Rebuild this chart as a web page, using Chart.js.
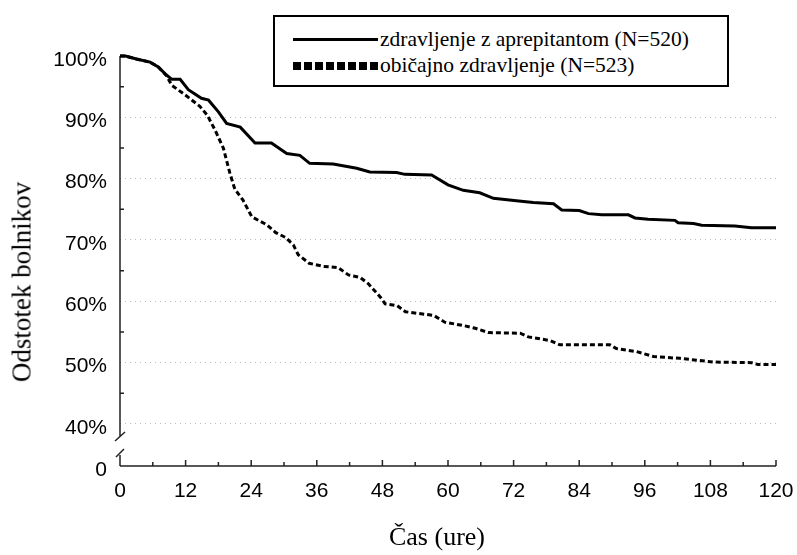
<!DOCTYPE html>
<html>
<head>
<meta charset="utf-8">
<script src="https://cdn.jsdelivr.net/npm/chart.js@4.4.1/dist/chart.umd.min.js"></script>
<style>
  body { margin: 0; background: #fff; }
  #wrap { position: relative; width: 797px; height: 555px; }
  #legend { position: absolute; left: 273px; top: 15px; width: 452px; height: 68px; border: 2px solid #000; background: #fff;
            font-family: "Liberation Serif", "Times New Roman", serif; font-size: 21.5px; color: #000; }
  .row { position: absolute; left: 105px; line-height: 24px; white-space: nowrap; }
  .sample { position: absolute; left: 18px; width: 85px; }
  #ytitle { position: absolute; left: 22px; top: 282px; transform: translate(-50%, -50%) rotate(-90deg);
            font-family: "Liberation Serif", serif; font-size: 27px; white-space: nowrap; }
  #xtitle { position: absolute; left: 437px; top: 537px; transform: translate(-50%, -50%);
            font-family: "Liberation Serif", serif; font-size: 26px; white-space: nowrap; }
</style>
</head>
<body>
<div id="wrap">
  <canvas id="km" width="797" height="555"></canvas>
  <div id="legend">
    <div class="sample" style="top:21px;height:3px;background:#000"></div>
    <div class="row" style="top:10px">zdravljenje z aprepitantom (N=520)</div>
    <div class="sample" style="top:45px;height:8px;background:repeating-linear-gradient(to right,#000 0 8px,transparent 8px 11px)"></div>
    <div class="row" style="top:36px">običajno zdravljenje (N=523)</div>
  </div>
  <div id="ytitle">Odstotek bolnikov</div>
  <div id="xtitle">Čas (ure)</div>
</div>
<script>
// hours / percent of patients
const aprepitantHours = [0, 1, 3, 5.5, 7, 8.5, 9.5, 11, 12.5, 14.9, 16.2, 18, 19.5, 22, 24.7, 27.7, 30.5, 32.9, 34.7, 39, 43.3, 45.7, 50.6, 52.1, 57, 60, 62.8, 65.8, 68.3, 72.5, 75.6, 79.3, 80.8, 84, 85.7, 88.1, 93, 94.2, 96.6, 101.5, 102.1, 104.9, 106.4, 112.5, 115.5, 120];
const aprepitantPct   = [100, 100, 99.5, 99.0, 98.2, 96.9, 96.2, 96.2, 94.5, 93.1, 92.8, 90.9, 89.0, 88.4, 85.8, 85.8, 84.1, 83.8, 82.5, 82.4, 81.7, 81.1, 81.0, 80.7, 80.6, 79.0, 78.1, 77.7, 76.8, 76.4, 76.1, 75.9, 74.9, 74.8, 74.3, 74.1, 74.1, 73.6, 73.4, 73.2, 72.8, 72.7, 72.4, 72.3, 72.0, 72.0];

const standardHours = [0, 1, 3, 5.5, 7, 8.5, 9.5, 12, 14.6, 16, 17.4, 18.9, 20.1, 21, 22.5, 24.1, 26.8, 28.5, 30.3, 31.7, 32.6, 34.6, 37.2, 39.9, 41.8, 43.9, 45.4, 47.6, 48.5, 50.7, 52.2, 57.4, 59.4, 63.1, 65, 67.4, 73.2, 74.7, 78.7, 80.5, 89.6, 90.8, 94.5, 97.6, 102.4, 105.5, 108.5, 115.5, 116.7, 120];
const standardPct   = [100, 100, 99.5, 99.0, 98.2, 96.8, 95.2, 93.6, 91.8, 90.3, 87.9, 85.0, 80.9, 78.3, 76.5, 73.8, 72.5, 71.2, 70.4, 69.2, 67.6, 66.2, 65.7, 65.5, 64.3, 63.9, 62.9, 60.7, 59.6, 59.3, 58.3, 57.7, 56.6, 56.0, 55.6, 54.9, 54.8, 54.2, 53.6, 52.9, 52.9, 52.3, 51.8, 51.0, 50.7, 50.4, 50.1, 50.0, 49.7, 49.7];

const xTicks = [0, 12, 24, 36, 48, 60, 72, 84, 96, 108, 120];
const yTicks = [40, 50, 60, 70, 80, 90, 100];
const BREAK = 33.15; // position of "0" below the axis break

const toPoints = (xs, ys) => xs.map((x, i) => ({ x: x, y: ys[i] }));

const axisPlugin = {
  id: 'axisPlugin',
  beforeDatasetsDraw(chart) {
    const ctx = chart.ctx;
    const xs = chart.scales.x, ys = chart.scales.y;
    const x0 = xs.getPixelForValue(0), x1 = xs.getPixelForValue(120);
    const yb = ys.getPixelForValue(BREAK), yt = ys.getPixelForValue(100);
    const y40 = ys.getPixelForValue(40);
    ctx.save();
    ctx.strokeStyle = '#222';
    ctx.lineWidth = 1.5;
    ctx.beginPath();
    // x axis
    ctx.moveTo(x0, yb); ctx.lineTo(x1, yb);
    // y axis, with break
    ctx.moveTo(x0, yb); ctx.lineTo(x0, yb - 11);
    ctx.moveTo(x0, y40 + 13); ctx.lineTo(x0, yt);
    // break marks
    ctx.moveTo(x0 - 4, yb - 9); ctx.lineTo(x0 + 4, yb - 17);
    ctx.moveTo(x0 - 5, y40 + 17); ctx.lineTo(x0 + 5, y40 + 8);
    // x ticks (inward)
    for (let h = 0; h <= 120; h += 6) {
      const px = xs.getPixelForValue(h);
      ctx.moveTo(px, yb); ctx.lineTo(px, yb - (h % 12 === 0 ? 6 : 4));
    }
    // y minor ticks
    for (let v = 45; v < 100; v += 10) {
      const py = ys.getPixelForValue(v);
      ctx.moveTo(x0, py); ctx.lineTo(x0 + 4, py);
    }
    ctx.stroke();
    ctx.restore();
  }
};

new Chart(document.getElementById('km'), {
  type: 'line',
  data: {
    datasets: [{
      label: 'zdravljenje z aprepitantom (N=520)',
      data: toPoints(aprepitantHours, aprepitantPct),
      borderColor: '#000',
      borderWidth: 3,
      pointRadius: 0,
      tension: 0,
      clip: 6
    }, {
      label: 'običajno zdravljenje (N=523)',
      data: toPoints(standardHours, standardPct),
      borderColor: '#000',
      borderWidth: 3,
      borderDash: [5, 3],
      pointRadius: 0,
      tension: 0,
      clip: 6
    }]
  },
  options: {
    responsive: false,
    animation: false,
    layout: { padding: { top: 56, right: 21, left: 0, bottom: 0 } },
    plugins: { legend: { display: false }, tooltip: { enabled: false } },
    scales: {
      x: {
        type: 'linear',
        min: 0,
        max: 120,
        afterFit(scale) {
          scale.height = 89;
          scale.paddingLeft = 0;
          scale.paddingRight = 0;
        },
        afterBuildTicks(scale) { scale.ticks = xTicks.map(v => ({ value: v })); },
        grid: { display: false, drawTicks: false },
        border: { display: false },
        ticks: {
          padding: 13,
          color: '#000',
          font: { family: 'Liberation Sans, Arial, sans-serif', size: 21 }
        }
      },
      y: {
        type: 'linear',
        min: BREAK,
        max: 100,
        afterFit(scale) {
          scale.width = 120;
          scale.paddingTop = 0;
          scale.paddingBottom = 0;
        },
        afterBuildTicks(scale) { scale.ticks = [BREAK].concat(yTicks).map(v => ({ value: v })); },
        grid: {
          drawTicks: false,
          color: c => (c.tick && c.tick.value >= 40 && c.tick.value < 100) ? '#bbb' : 'rgba(0,0,0,0)',
          lineWidth: 1
        },
        border: { display: false, dash: [1, 4] },
        ticks: {
          padding: 13,
          labelOffset: 4,
          color: '#000',
          font: { family: 'Liberation Sans, Arial, sans-serif', size: 21 },
          callback: v => v === BREAK ? '0' : v + '%'
        }
      }
    }
  },
  plugins: [axisPlugin]
});
</script>
</body>
</html>
